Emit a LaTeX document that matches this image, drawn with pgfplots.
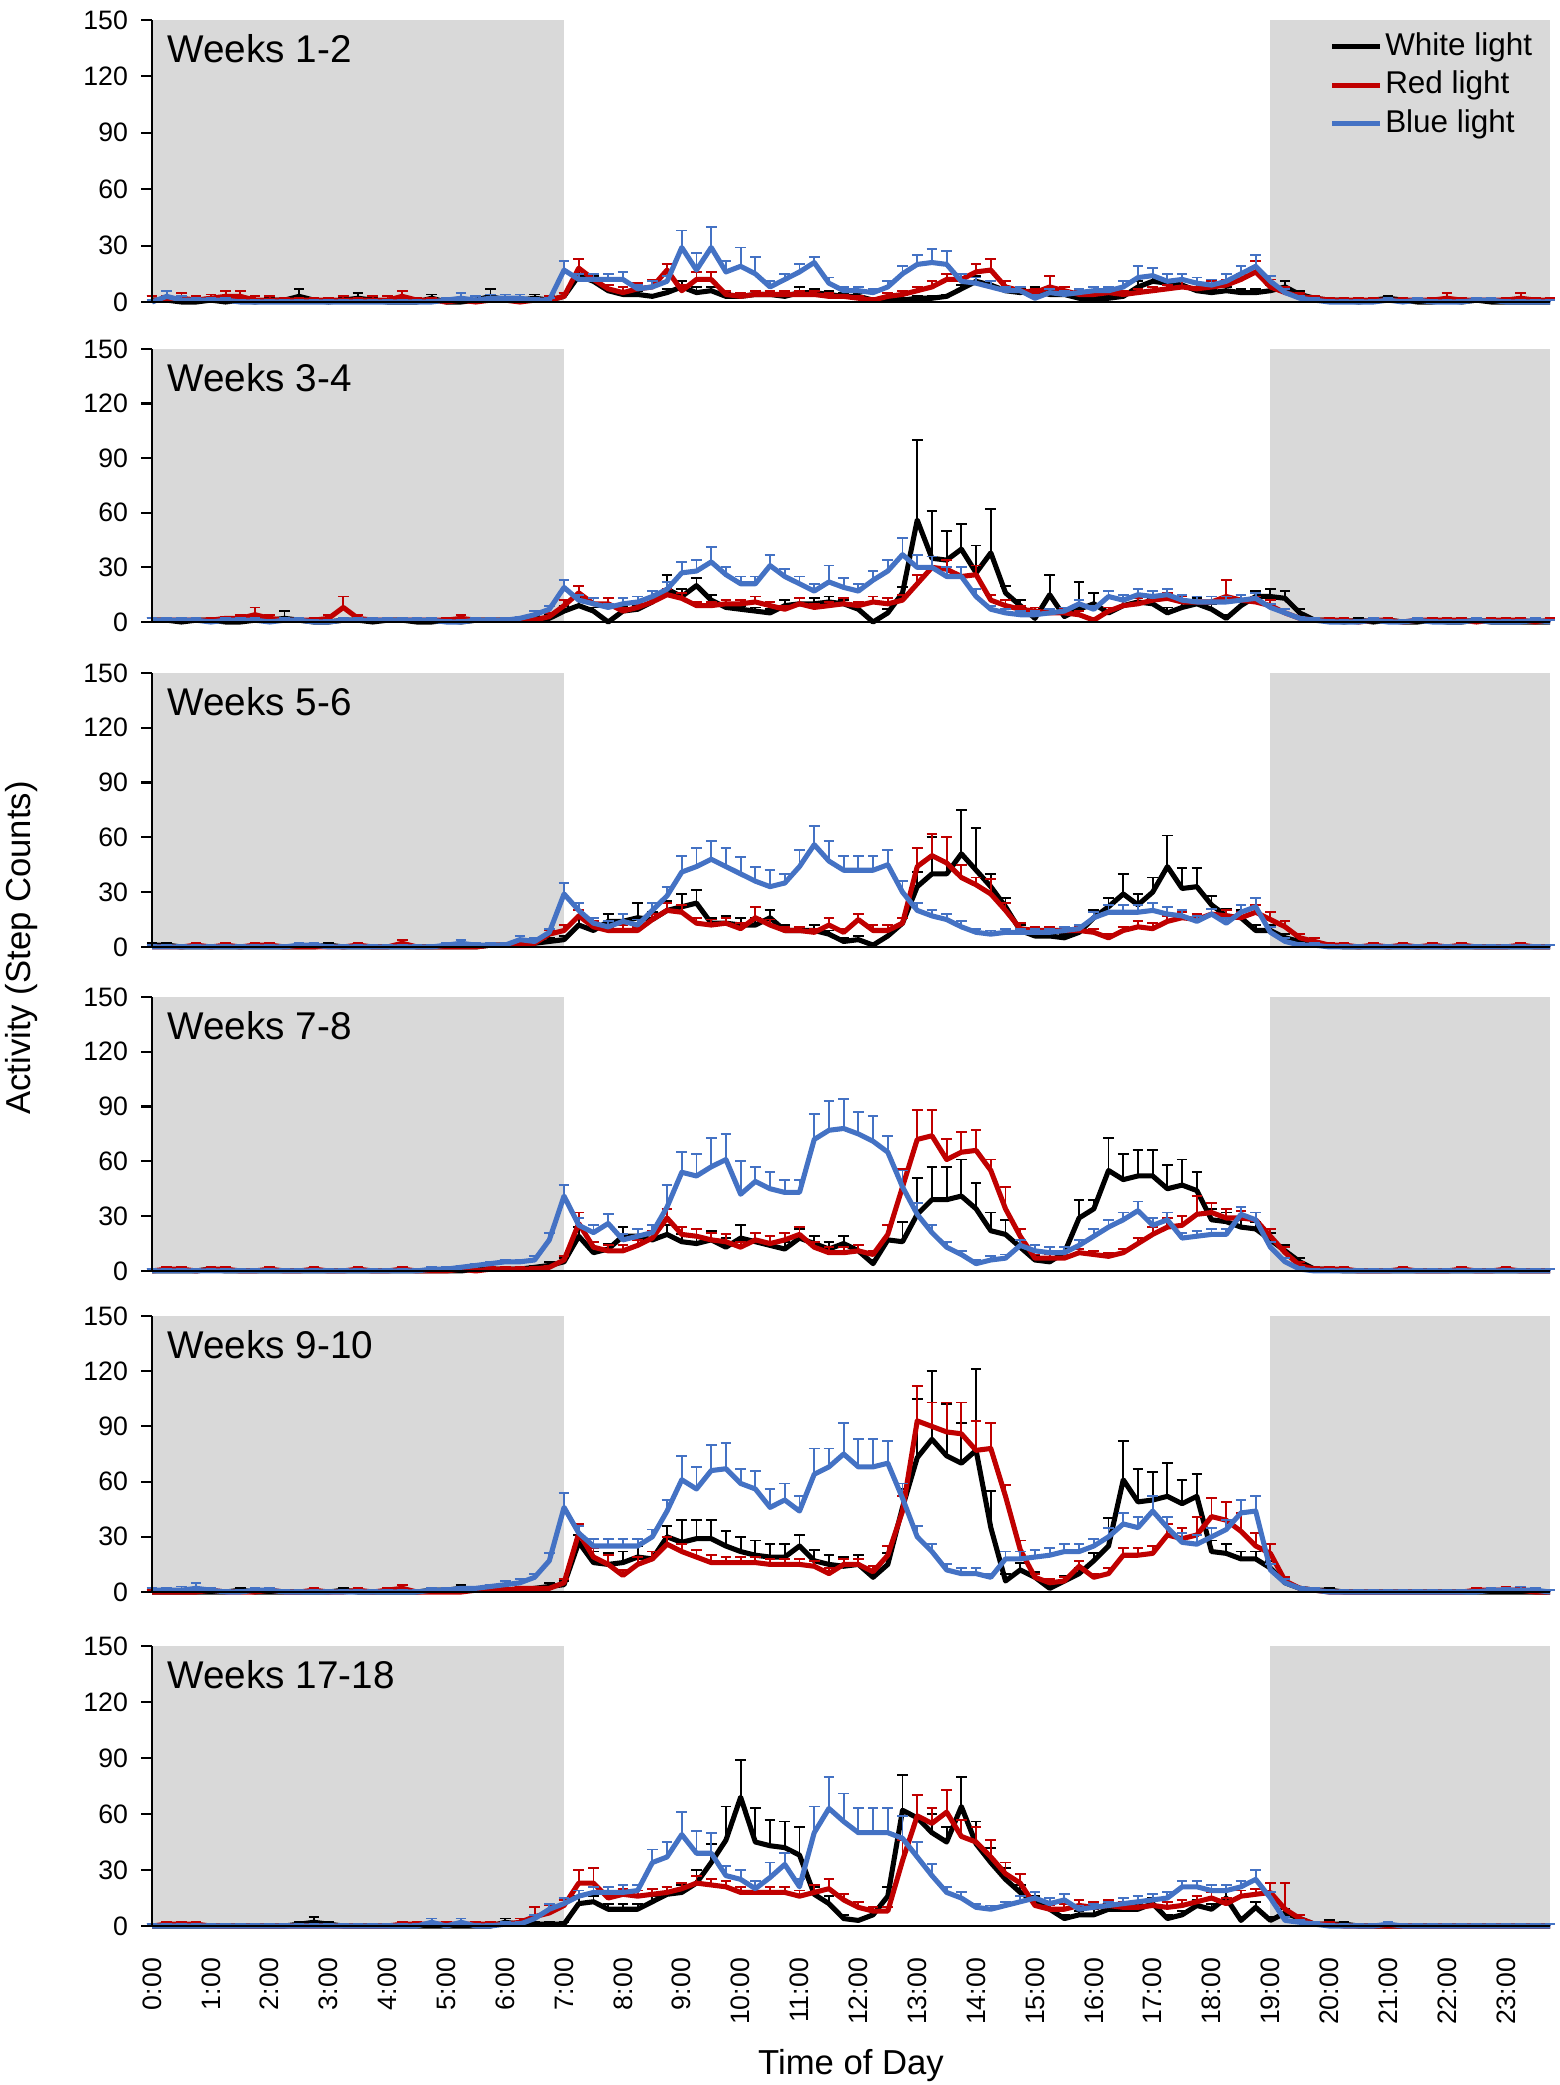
\documentclass[border=0pt]{standalone}
\usepackage{fontspec}
\setmainfont{Liberation Sans}
\usepackage{pgfplots}
\usepackage{pgfplotstable}
\pgfplotsset{compat=1.18}
\definecolor{myred}{HTML}{C00000}
\definecolor{myblue}{HTML}{4472C4}
\definecolor{night}{HTML}{D9D9D9}

% columns: t = hour, w/we = white light mean/SE, r/re = red, b/be = blue
\pgfplotstableread{
t w we r re b be
0 1 2 1 2 0 1
0.25 1 2 1 2 3 3
0.5 0 1 2 3 1 2
0.75 0 1 1 2 1 1
1 1 1 2 2 1 1
1.25 0 1 3 3 1 1
1.5 1 1 3 3 0 1
1.75 0 1 1 2 0 1
2 1 1 1 2 0 1
2.25 1 1 1 1 0 1
2.5 3 4 1 1 0 1
2.75 1 1 1 1 0 1
3 0 1 1 1 0 1
3.25 1 1 1 2 0 1
3.5 2 3 1 1 0 1
3.75 1 1 1 2 0 1
4 0 1 1 2 0 1
4.25 0 1 3 3 0 1
4.5 0 1 1 1 0 1
4.75 2 2 1 1 0 1
5 0 1 0 1 1 1
5.25 0 1 1 1 2 3
5.5 1 2 0 1 1 2
5.75 3 4 1 1 2 2
6 1 1 1 1 2 2
6.25 1 1 0 1 2 2
6.5 2 2 1 1 1 1
6.75 1 1 1 2 1 1
7 3 2 3 2 17 5
7.25 14 9 18 5 12 3
7.5 11 3 12 3 12 3
7.75 6 3 7 2 12 3
8 4 2 5 3 12 4
8.25 4 2 7 3 7 2
8.5 3 1 8 4 8 3
8.75 5 2 17 3 11 3
9 8 3 6 3 29 9
9.25 5 3 12 4 17 9
9.5 6 2 12 4 29 11
9.75 3 2 4 2 16 6
10 3 2 3 2 19 10
10.25 4 2 4 2 15 9
10.5 4 2 4 2 8 3
10.75 3 2 4 2 12 3
11 5 3 4 2 16 4
11.25 5 2 4 2 21 3
11.5 4 2 3 2 10 3
11.75 3 2 3 1 6 2
12 3 2 2 1 6 2
12.25 1 1 1 1 5 2
12.5 1 1 3 2 8 3
12.75 1 1 4 2 15 4
13 2 1 6 2 20 5
13.25 2 1 8 3 21 7
13.5 3 1 12 3 20 7
13.75 7 2 12 3 11 4
14 11 3 16 4 10 3
14.25 9 2 17 6 8 3
14.5 6 2 8 3 6 2
14.75 5 2 6 2 6 2
15 6 2 5 2 2 2
15.25 4 2 8 6 5 2
15.5 4 2 6 2 4 2
15.75 2 1 4 2 5 2
16 2 1 4 2 6 2
16.25 2 1 5 2 6 2
16.5 3 1 4 2 8 3
16.75 8 3 5 2 13 6
17 11 3 6 2 14 4
17.25 10 2 7 2 11 4
17.5 9 3 8 3 12 3
17.75 6 2 7 3 10 3
18 5 2 8 3 9 3
18.25 6 2 9 3 11 4
18.5 5 2 12 3 15 4
18.75 5 2 16 6 19 6
19 6 3 8 4 11 3
19.25 8 3 5 3 5 2
19.5 4 2 3 2 2 1
19.75 2 1 2 1 1 1
20 1 1 1 1 0 1
20.25 1 1 1 1 0 1
20.5 0 1 1 1 0 1
20.75 1 1 1 1 0 1
21 2 1 1 1 1 1
21.25 1 1 1 1 0 1
21.5 0 1 1 1 1 1
21.75 0 1 1 1 0 1
22 1 1 2 3 0 1
22.25 0 1 1 1 0 1
22.5 1 1 1 1 1 1
22.75 0 1 1 1 1 1
23 0 1 1 1 0 1
23.25 0 1 2 3 0 1
23.5 0 1 1 1 0 1
23.75 0 1 1 1 0 1
}\Pone

\pgfplotstableread{
t w we r re b be
0 1 1 1 1 1 1
0.25 1 1 1 1 1 1
0.5 0 1 1 1 1 1
0.75 1 1 1 1 1 1
1 1 1 1 1 0 1
1.25 0 1 2 1 1 1
1.5 0 1 2 2 1 1
1.75 1 1 4 4 1 1
2 1 1 2 2 0 1
2.25 2 4 1 1 1 1
2.5 1 1 1 1 1 1
2.75 0 1 1 1 0 1
3 0 1 2 2 0 1
3.25 1 1 8 6 1 1
3.5 1 1 2 2 1 1
3.75 0 1 1 1 1 1
4 1 1 1 1 1 1
4.25 1 1 1 1 1 1
4.5 0 1 1 1 1 1
4.75 0 1 1 1 1 1
5 1 1 1 1 0 1
5.25 0 1 2 2 0 1
5.5 1 1 1 1 1 1
5.75 1 1 1 1 1 1
6 1 1 1 1 1 1
6.25 1 1 1 1 2 1
6.5 2 2 1 1 4 2
6.75 2 2 3 2 7 2
7 6 3 9 3 19 4
7.25 9 4 16 4 12 3
7.5 6 2 10 3 10 3
7.75 0 1 10 3 8 2
8 6 3 6 2 10 3
8.25 7 2 8 2 11 3
8.5 11 3 11 3 14 3
8.75 18 8 15 3 18 4
9 14 4 13 3 27 6
9.25 20 4 9 2 28 6
9.5 12 3 9 2 33 8
9.75 8 2 10 2 26 4
10 7 2 10 2 21 4
10.25 6 2 11 3 21 4
10.5 5 2 9 2 31 6
10.75 9 3 7 2 25 4
11 10 3 10 3 21 4
11.25 10 3 8 2 17 4
11.5 11 3 9 2 22 9
11.75 10 2 10 3 19 5
12 7 2 9 2 17 4
12.25 0 1 11 3 23 5
12.5 5 2 10 3 28 6
12.75 16 3 12 3 37 9
13 56 44 21 5 30 7
13.25 35 26 30 6 30 6
13.5 34 16 29 5 25 5
13.75 40 14 25 5 25 5
14 27 15 26 5 14 4
14.25 38 24 12 3 7 2
14.5 16 4 9 3 5 2
14.75 9 3 7 2 4 2
15 2 2 6 2 4 2
15.25 15 11 5 2 5 2
15.5 3 2 5 2 6 2
15.75 7 15 4 2 10 2
16 10 6 1 1 7 2
16.25 5 3 6 2 14 3
16.5 9 3 9 3 12 3
16.75 11 3 10 3 15 3
17 10 3 12 3 14 3
17.25 5 3 13 3 15 3
17.5 8 3 11 3 12 3
17.75 10 3 11 3 11 3
18 7 3 11 3 11 3
18.25 2 2 14 9 11 3
18.5 9 3 12 3 12 3
18.75 14 3 11 3 13 3
19 14 4 9 3 8 2
19.25 13 4 5 2 5 2
19.5 5 2 2 1 2 1
19.75 1 1 1 1 1 1
20 1 1 1 1 0 1
20.25 0 1 1 1 0 1
20.5 1 1 0 1 0 1
20.75 0 1 1 1 1 1
21 1 1 1 1 0 1
21.25 0 1 0 1 0 1
21.5 0 1 1 1 1 1
21.75 1 1 1 1 0 1
22 0 1 1 1 0 1
22.25 0 1 1 1 0 1
22.5 1 1 0 1 1 1
22.75 0 1 1 1 0 1
23 0 1 1 1 0 1
23.25 0 1 1 1 0 1
23.5 0 1 0 1 1 1
23.75 0 1 1 1 0 1
}\Ptwo

\pgfplotstableread{
t w we r re b be
0 1 1 0 1 0 1
0.25 1 1 0 1 0 1
0.5 0 1 0 1 0 1
0.75 0 1 1 1 0 1
1 0 1 0 1 0 1
1.25 0 1 1 1 0 1
1.5 0 1 0 1 0 1
1.75 0 1 1 1 0 1
2 0 1 1 1 0 1
2.25 0 1 0 1 0 1
2.5 0 1 0 1 1 1
2.75 0 1 0 1 1 1
3 1 1 0 1 0 1
3.25 0 1 0 1 0 1
3.5 0 1 1 1 0 1
3.75 0 1 0 1 0 1
4 0 1 0 1 0 1
4.25 0 1 2 2 0 1
4.5 0 1 0 1 0 1
4.75 0 1 0 1 0 1
5 0 1 0 1 1 1
5.25 0 1 0 1 2 2
5.5 0 1 0 1 1 1
5.75 1 1 1 1 1 1
6 1 1 1 1 1 1
6.25 1 1 1 1 4 2
6.5 2 1 2 1 3 2
6.75 3 2 7 2 8 2
7 4 2 9 3 29 6
7.25 12 3 17 3 20 4
7.5 9 3 11 3 13 3
7.75 14 4 9 2 11 3
8 14 4 9 3 14 4
8.25 16 8 9 2 12 3
8.5 15 4 15 3 20 4
8.75 20 5 20 4 28 5
9 22 7 19 4 41 9
9.25 24 7 13 3 44 10
9.5 13 3 12 3 48 10
9.75 13 4 13 3 44 10
10 12 4 10 3 40 9
10.25 12 4 16 6 36 8
10.5 16 4 12 3 33 9
10.75 9 3 9 2 35 5
11 9 2 9 2 44 9
11.25 9 3 8 2 56 10
11.5 7 2 12 4 47 11
11.75 3 2 8 2 42 8
12 4 2 15 3 42 8
12.25 1 1 9 3 42 8
12.5 6 2 9 3 45 8
12.75 13 3 13 3 30 6
13 33 8 44 10 20 4
13.25 40 20 50 12 17 3
13.5 40 20 46 14 15 3
13.75 51 24 38 7 11 3
14 42 23 34 4 8 2
14.25 33 7 29 8 7 2
14.5 22 5 20 4 8 2
14.75 9 3 10 3 8 2
15 6 2 9 2 8 2
15.25 6 2 9 2 8 2
15.5 5 2 9 2 9 2
15.75 8 3 9 2 10 2
16 16 4 8 2 16 3
16.25 22 5 5 2 19 4
16.5 29 11 9 2 19 4
16.75 23 6 11 3 19 4
17 30 8 10 3 20 4
17.25 44 17 14 3 18 4
17.5 32 11 16 3 17 3
17.75 33 10 15 3 14 3
18 23 5 18 3 18 3
18.25 17 4 17 3 13 3
18.5 16 4 16 3 19 4
18.75 9 3 19 4 22 5
19 9 3 15 4 8 3
19.25 5 2 11 3 3 2
19.5 3 2 5 2 1 1
19.75 1 1 3 2 1 1
20 1 1 1 1 0 1
20.25 0 1 1 1 0 1
20.5 0 1 0 1 0 1
20.75 0 1 1 1 0 1
21 0 1 0 1 0 1
21.25 0 1 1 1 0 1
21.5 0 1 0 1 0 1
21.75 0 1 1 1 0 1
22 0 1 0 1 0 1
22.25 0 1 1 1 0 1
22.5 0 1 0 1 0 1
22.75 0 1 0 1 0 1
23 0 1 0 1 0 1
23.25 0 1 1 1 0 1
23.5 0 1 0 1 0 1
23.75 0 1 0 1 0 1
}\Pthree

\pgfplotstableread{
t w we r re b be
0 0 1 0 1 0 1
0.25 0 1 1 1 0 1
0.5 0 1 1 1 0 1
0.75 0 1 0 1 0 1
1 1 1 1 1 0 1
1.25 0 1 1 1 0 1
1.5 0 1 0 1 0 1
1.75 0 1 0 1 0 1
2 0 1 1 1 0 1
2.25 0 1 0 1 0 1
2.5 0 1 0 1 0 1
2.75 0 1 1 1 0 1
3 0 1 0 1 0 1
3.25 0 1 0 1 0 1
3.5 0 1 1 1 0 1
3.75 0 1 0 1 0 1
4 0 1 0 1 0 1
4.25 0 1 1 1 0 1
4.5 0 1 0 1 0 1
4.75 0 1 0 1 1 1
5 0 1 0 1 1 1
5.25 0 1 1 1 2 1
5.5 1 1 0 1 3 1
5.75 1 1 1 1 4 1
6 1 1 1 1 5 1
6.25 1 1 1 1 5 1
6.5 2 1 1 1 6 2
6.75 3 2 2 1 17 4
7 5 2 6 2 41 6
7.25 19 5 26 6 25 4
7.5 10 3 13 3 21 4
7.75 12 3 11 3 26 5
8 19 5 11 3 17 3
8.25 19 4 14 3 19 4
8.5 17 4 18 4 21 4
8.75 20 5 29 5 35 12
9 16 4 20 4 54 11
9.25 15 4 19 4 52 12
9.5 17 5 17 4 57 16
9.75 13 5 16 4 61 14
10 18 7 13 3 42 18
10.25 16 5 17 4 49 8
10.5 14 5 15 4 45 9
10.75 12 4 17 4 43 7
11 18 5 20 4 43 7
11.25 15 4 13 3 72 14
11.5 12 4 10 3 77 16
11.75 15 4 10 3 78 16
12 11 3 11 3 75 12
12.25 4 2 9 2 71 14
12.5 17 8 20 5 65 9
12.75 16 11 46 10 46 9
13 31 20 72 16 31 6
13.25 39 18 74 14 21 4
13.5 39 18 61 11 13 3
13.75 41 20 65 11 9 2
14 34 14 66 11 4 2
14.25 22 10 55 6 6 2
14.5 20 8 34 12 7 2
14.75 13 4 19 4 14 3
15 6 2 7 2 11 3
15.25 5 2 7 2 10 3
15.5 10 3 7 2 10 3
15.75 29 10 10 2 14 3
16 34 5 9 2 19 4
16.25 55 18 8 2 24 4
16.5 50 14 10 2 28 4
16.75 52 14 15 3 33 5
17 52 14 20 4 25 4
17.25 45 13 24 5 28 4
17.5 47 14 25 5 18 3
17.75 44 10 31 10 19 3
18 28 6 32 5 20 3
18.25 27 5 29 5 20 3
18.5 24 4 29 4 31 4
18.75 23 4 28 4 28 4
19 17 4 19 4 13 3
19.25 11 3 10 3 5 2
19.5 5 2 3 2 1 1
19.75 1 1 1 1 0 1
20 1 1 1 1 0 1
20.25 0 1 1 1 0 1
20.5 0 1 0 1 0 1
20.75 0 1 0 1 0 1
21 0 1 0 1 0 1
21.25 0 1 1 1 0 1
21.5 0 1 0 1 0 1
21.75 0 1 0 1 0 1
22 0 1 0 1 0 1
22.25 0 1 1 1 0 1
22.5 0 1 0 1 0 1
22.75 0 1 0 1 0 1
23 0 1 1 1 0 1
23.25 0 1 0 1 0 1
23.5 0 1 0 1 0 1
23.75 0 1 0 1 0 1
}\Pfour

\pgfplotstableread{
t w we r re b be
0 0 1 0 1 1 1
0.25 0 1 0 1 1 1
0.5 0 1 0 1 1 2
0.75 0 1 0 1 2 3
1 0 1 1 1 1 1
1.25 0 1 0 1 0 1
1.5 1 1 0 1 0 1
1.75 0 1 0 1 1 1
2 0 1 1 1 1 1
2.25 0 1 0 1 0 1
2.5 0 1 0 1 0 1
2.75 0 1 1 1 0 1
3 0 1 0 1 0 1
3.25 1 1 0 1 0 1
3.5 0 1 1 1 0 1
3.75 0 1 0 1 0 1
4 0 1 1 1 0 1
4.25 0 1 2 2 0 1
4.5 0 1 0 1 0 1
4.75 1 1 0 1 1 1
5 1 1 0 1 1 1
5.25 2 2 0 1 2 1
5.5 1 1 1 1 2 1
5.75 1 1 1 1 3 1
6 1 1 1 1 4 2
6.25 1 1 2 1 5 2
6.5 2 1 2 1 8 2
6.75 3 2 2 1 17 4
7 4 2 5 2 46 8
7.25 27 4 32 5 32 4
7.5 16 6 19 5 25 4
7.75 15 6 15 5 25 4
8 16 6 9 3 25 4
8.25 19 6 15 4 25 4
8.5 18 4 18 4 30 4
8.75 30 6 26 4 44 6
9 27 12 22 4 61 13
9.25 29 10 19 4 56 12
9.5 29 10 16 4 66 14
9.75 25 8 16 3 67 14
10 22 8 16 3 59 8
10.25 20 8 16 3 56 10
10.5 19 7 15 3 46 10
10.75 19 7 15 3 50 9
11 25 6 15 3 44 8
11.25 17 6 14 3 64 14
11.5 15 5 10 3 68 10
11.75 14 5 15 3 75 17
12 15 5 15 3 68 15
12.25 8 3 11 3 68 15
12.5 15 6 20 5 70 12
12.75 46 10 44 8 51 8
13 73 32 93 19 30 6
13.25 83 37 90 13 22 4
13.5 74 28 87 16 12 3
13.75 70 22 86 17 10 3
14 77 44 77 16 10 3
14.25 35 20 78 14 8 2
14.5 6 4 52 6 18 4
14.75 12 4 23 5 18 4
15 8 3 8 2 19 4
15.25 2 2 5 2 20 4
15.5 6 3 6 2 22 4
15.75 10 3 14 3 22 4
16 17 4 8 2 25 4
16.25 25 15 10 3 30 5
16.5 61 21 20 4 37 6
16.75 49 18 20 4 35 6
17 50 15 21 4 44 8
17.25 52 18 31 6 35 6
17.5 48 13 29 6 27 5
17.75 52 12 31 10 26 5
18 22 6 41 10 30 5
18.25 21 5 39 10 34 5
18.5 18 4 33 10 43 7
18.75 18 4 25 7 44 8
19 13 4 21 5 12 3
19.25 5 2 6 2 5 2
19.5 2 1 2 1 2 1
19.75 1 1 1 1 1 1
20 1 1 0 1 0 1
20.25 0 1 0 1 0 1
20.5 0 1 0 1 0 1
20.75 0 1 0 1 0 1
21 0 1 0 1 0 1
21.25 0 1 0 1 0 1
21.5 0 1 0 1 0 1
21.75 0 1 0 1 0 1
22 0 1 0 1 0 1
22.25 0 1 0 1 0 1
22.5 0 1 1 1 0 1
22.75 0 1 1 1 1 1
23 0 1 1 2 1 1
23.25 0 1 1 1 1 2
23.5 0 1 0 1 1 1
23.75 0 1 0 1 0 1
}\Pfive

\pgfplotstableread{
t w we r re b be
0 0 1 0 1 0 1
0.25 0 1 1 1 0 1
0.5 0 1 1 1 0 1
0.75 0 1 1 1 0 1
1 0 1 0 1 0 1
1.25 0 1 0 1 0 1
1.5 0 1 0 1 0 1
1.75 0 1 0 1 0 1
2 0 1 0 1 0 1
2.25 0 1 0 1 0 1
2.5 1 1 0 1 0 1
2.75 2 3 0 1 0 1
3 1 1 0 1 0 1
3.25 0 1 0 1 0 1
3.5 0 1 0 1 0 1
3.75 0 1 0 1 0 1
4 0 1 0 1 0 1
4.25 0 1 1 1 0 1
4.5 0 1 1 1 0 1
4.75 0 1 1 1 2 2
5 0 1 1 1 0 1
5.25 0 1 1 1 2 2
5.5 0 1 1 1 0 1
5.75 0 1 1 1 0 1
6 2 2 1 1 1 1
6.25 1 1 2 2 1 1
6.5 1 1 5 5 4 2
6.75 1 1 7 4 9 3
7 1 1 11 3 12 3
7.25 12 4 23 7 16 3
7.5 13 3 23 8 18 3
7.75 9 3 15 3 18 3
8 9 3 17 3 18 4
8.25 9 3 16 3 19 3
8.5 13 3 17 3 34 7
8.75 17 4 18 3 37 8
9 18 4 20 3 49 12
9.25 23 7 23 4 39 12
9.5 34 10 22 3 39 11
9.75 46 18 21 3 27 5
10 69 20 18 3 25 5
10.25 45 18 18 3 20 4
10.5 43 14 18 3 26 8
10.75 42 14 18 3 33 6
11 38 15 16 3 21 4
11.25 17 4 18 4 50 14
11.5 12 4 20 5 63 17
11.75 4 2 14 3 56 15
12 3 1 10 3 50 13
12.25 6 2 8 2 50 13
12.5 16 5 8 2 50 13
12.75 62 19 35 11 47 12
13 58 12 59 11 37 8
13.25 50 10 55 8 27 6
13.5 45 8 61 12 18 3
13.75 64 16 48 9 15 3
14 44 12 45 8 10 2
14.25 34 8 37 9 9 2
14.5 25 6 28 6 11 2
14.75 18 4 23 5 13 3
15 13 3 11 3 15 3
15.25 9 3 9 2 12 3
15.5 4 2 9 3 14 3
15.75 6 2 11 3 9 2
16 6 3 10 3 10 2
16.25 9 3 11 3 11 2
16.5 9 3 10 3 12 3
16.75 9 3 10 3 13 3
17 12 3 11 3 14 3
17.25 4 2 10 3 15 3
17.5 6 2 11 3 21 3
17.75 11 3 13 3 21 3
18 9 3 15 3 19 3
18.25 15 4 12 3 19 3
18.5 3 2 16 3 21 3
18.75 10 3 17 3 25 5
19 3 2 18 5 15 3
19.25 7 2 9 14 3 2
19.5 4 2 4 2 2 1
19.75 1 1 1 1 1 1
20 1 2 1 1 0 1
20.25 1 1 0 1 0 1
20.5 0 1 0 1 0 1
20.75 0 1 0 1 0 1
21 0 1 0 1 1 1
21.25 0 1 0 1 0 1
21.5 0 1 0 1 0 1
21.75 0 1 0 1 0 1
22 0 1 0 1 0 1
22.25 0 1 0 1 0 1
22.5 0 1 0 1 0 1
22.75 0 1 0 1 0 1
23 0 1 0 1 0 1
23.25 0 1 0 1 0 1
23.5 0 1 0 1 0 1
23.75 0 1 0 1 0 1
}\Psix

\pgfplotsset{
  panel/.style={
    scale only axis, width=524.25pt,
    xmin=0, xmax=23.75, ymin=0, ymax=150,
    ytick={0,30,60,90,120,150},
    xtick={0,1,...,23}, xticklabels={},
    axis lines*=left, axis on top, clip=false,
    axis line style={black, line width=0.8pt},
    tick align=outside,
    major tick length=4pt,
    x tick style={draw=none},
    y tick style={black, line width=0.8pt},
    /pgf/number format/assume math mode=true,
    yticklabel style={font=\fontsize{10}{12}\selectfont, xshift=-1.5pt},
    anchor=south west,
  },
  wl/.style={black, line width=1.9pt, line join=round, no marks,
    error bars/.cd, y dir=plus, y explicit,
    error bar style={line width=0.7pt, black},
    error mark options={rotate=90, black, mark size=2pt, line width=0.7pt}},
  rl/.style={myred, line width=1.9pt, line join=round, no marks,
    error bars/.cd, y dir=plus, y explicit,
    error bar style={line width=0.7pt, myred},
    error mark options={rotate=90, myred, mark size=2pt, line width=0.7pt}},
  bl/.style={myblue, line width=1.9pt, line join=round, no marks,
    error bars/.cd, y dir=plus, y explicit,
    error bar style={line width=0.7pt, myblue},
    error mark options={rotate=90, myblue, mark size=2pt, line width=0.7pt}},
}

\newcommand{\nightbg}{%
  \fill[night] (axis cs:0,0) rectangle (axis cs:7,150);
  \fill[night] (axis cs:19,0) rectangle (axis cs:23.75,150);
}
\newcommand{\plabel}[1]{%
  \node[anchor=north west, inner sep=0pt, font=\fontsize{14.5}{16}\selectfont,
        xshift=5.6pt, yshift=-5.4pt] at (rel axis cs:0,1) {#1};
}
\newcommand{\threeplots}[1]{%
  \addplot[wl] table[x=t, y=w, y error=we] {#1};
  \addplot[rl] table[x=t, y=r, y error=re] {#1};
  \addplot[bl] table[x=t, y=b, y error=be] {#1};
}

\begin{document}
\begin{tikzpicture}
\useasboundingbox (0pt,0pt) rectangle (584.625pt,-781.875pt);

\begin{axis}[panel, at={(57pt,-113.25pt)}, height=105.75pt,
  legend style={draw=none, fill=none, at={(1,1)}, anchor=north east,
    xshift=-5.5pt, yshift=-2.5pt, inner sep=0pt, row sep=0pt,
    font=\fontsize{11.8}{14}\selectfont,
    nodes={inner sep=1pt, text height=9.5pt, text depth=3pt}},
  legend cell align=left,
  legend image code/.code={\draw[#1, line width=1.9pt] (0pt,0pt) -- (18pt,0pt);}]
\nightbg
\threeplots{\Pone}
\legend{White light, Red light, Blue light}
\plabel{Weeks 1-2}
\end{axis}

\begin{axis}[panel, at={(57pt,-233.25pt)}, height=102.4pt]
\nightbg
\threeplots{\Ptwo}
\plabel{Weeks 3-4}
\end{axis}

\begin{axis}[panel, at={(57pt,-355.1pt)}, height=102.75pt]
\nightbg
\threeplots{\Pthree}
\plabel{Weeks 5-6}
\end{axis}

\begin{axis}[panel, at={(57pt,-476.6pt)}, height=102.75pt]
\nightbg
\threeplots{\Pfour}
\plabel{Weeks 7-8}
\end{axis}

\begin{axis}[panel, at={(57pt,-597pt)}, height=103.5pt]
\nightbg
\threeplots{\Pfive}
\plabel{Weeks 9-10}
\end{axis}

\begin{axis}[panel, at={(57pt,-722.25pt)}, height=105pt,
  xticklabels={0:00,1:00,2:00,3:00,4:00,5:00,6:00,7:00,8:00,9:00,10:00,11:00,12:00,13:00,14:00,15:00,16:00,17:00,18:00,19:00,20:00,21:00,22:00,23:00},
  xticklabel style={font=\fontsize{10}{12}\selectfont, yshift=-4.5pt, rotate=90, anchor=east}]
\nightbg
\threeplots{\Psix}
\plabel{Weeks 17-18}
\end{axis}

\node[rotate=90, font=\fontsize{13}{15}\selectfont] at (8pt,-355.5pt) {Activity (Step Counts)};
\node[font=\fontsize{13}{15}\selectfont] at (319.1pt,-774.5pt) {Time of Day};
\end{tikzpicture}
\end{document}
